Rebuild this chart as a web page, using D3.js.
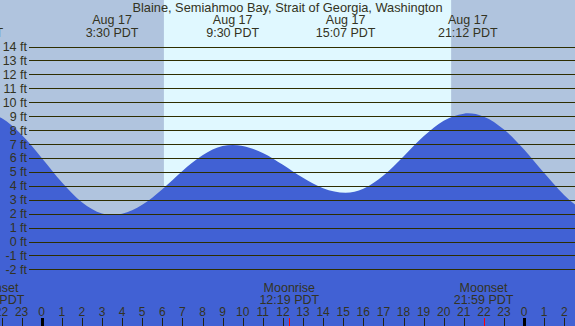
<!DOCTYPE html>
<meta charset="utf-8">
<style>
body { margin: 0; background: #fff; }
svg { display: block; }
text { font-family: "Liberation Sans", Arial, sans-serif; fill: #333322; }
</style>
<body>
<div id="chart"></div>
<script src="https://cdn.jsdelivr.net/npm/d3@7"></script>
<script>
// station + date
const title = "Blaine, Semiahmoo Bay, Strait of Georgia, Washington";

// tide height (hours from midnight Aug 17, feet)
const tideHours = [-3, -2, -1, 0, 1, 2, 3, 3.5, 4, 5, 6, 7, 8, 9, 9.5, 10, 11, 12, 13, 14, 15.12, 16, 17, 18, 19, 20, 21, 21.2, 22, 23, 24, 25, 26, 27];
const tideFeet  = [9.34, 8.86, 7.66, 6.00, 4.26, 2.82, 2.01, 1.90, 1.99, 2.64, 3.76, 5.07, 6.19, 6.85, 6.93, 6.86, 6.36, 5.51, 4.57, 3.83, 3.50, 3.79, 4.74, 6.11, 7.55, 8.67, 9.18, 9.20, 8.96, 8.04, 6.61, 4.92, 3.33, 2.12];

// high / low tide labels
const extremeHours = [-3.4, 3.5, 9.5, 15.12, 21.2];
const extremeDates = ["Aug 16", "Aug 17", "Aug 17", "Aug 17", "Aug 17"];
const extremeTimes = ["20:36 PDT", "3:30 PDT", "9:30 PDT", "15:07 PDT", "21:12 PDT"];

// moon events
const moonHours = [-2.35, 12.317, 21.983];
const moonNames = ["Moonset", "Moonrise", "Moonset"];
const moonTimes = ["21:39 PDT", "12:19 PDT", "21:59 PDT"];

// daylight
const sunrise = 6.08, sunset = 20.37;

const feetTicks = d3.range(-2, 15);
const hourTicks = d3.range(-2, 27);

const width = 575, height = 326;

const x = d3.scaleLinear().domain([0, 24]).range([41.7, 524.1]);
const y = d3.scaleLinear().domain([-2, 14]).range([269.4, 46.5]);

const svg = d3.select("#chart").append("svg")
	.attr("width", width)
	.attr("height", height);

// night / day background
svg.append("rect")
	.attr("width", width).attr("height", height)
	.attr("fill", "#b0c4de");
svg.append("rect")
	.attr("x", x(sunrise)).attr("y", 0)
	.attr("width", x(sunset) - x(sunrise)).attr("height", height)
	.attr("fill", "#e0f8ff");

// tide area
const tide = tideHours.map((h, i) => ({h: h, v: tideFeet[i]}));
const area = d3.area()
	.x(d => x(d.h))
	.y0(height)
	.y1(d => y(d.v))
	.curve(d3.curveMonotoneX);
svg.append("path")
	.datum(tide)
	.attr("d", area)
	.attr("fill", "#4161d4");

// grid lines + feet labels
svg.selectAll(".grid")
	.data(feetTicks)
	.enter().append("line")
	.attr("x1", 29).attr("x2", width)
	.attr("y1", d => Math.round(y(d)) + 0.5)
	.attr("y2", d => Math.round(y(d)) + 0.5)
	.attr("stroke", "#2e2e00")
	.attr("stroke-width", 1);

svg.selectAll(".ft")
	.data(feetTicks)
	.enter().append("text")
	.attr("x", 27)
	.attr("y", d => y(d) + 4.5)
	.attr("text-anchor", "end")
	.style("font-size", "12.5px")
	.text(d => d + " ft");

// title
svg.append("text")
	.attr("x", width / 2).attr("y", 11.5)
	.attr("text-anchor", "middle")
	.style("font-size", "12.8px")
	.text(title);

// tide extreme labels
const ext = svg.selectAll(".ext")
	.data(extremeHours)
	.enter().append("g")
	.attr("transform", d => "translate(" + x(d) + ",0)");
ext.append("text")
	.attr("y", 24).attr("text-anchor", "middle")
	.style("font-size", "12.5px")
	.text((d, i) => extremeDates[i]);
ext.append("text")
	.attr("y", 36.5).attr("text-anchor", "middle")
	.style("font-size", "12.5px")
	.text((d, i) => extremeTimes[i]);

// moon labels
const moon = svg.selectAll(".moon")
	.data(moonHours)
	.enter().append("g")
	.attr("transform", d => "translate(" + x(d) + ",0)");
moon.append("text")
	.attr("y", 291.5).attr("text-anchor", "middle")
	.style("font-size", "12.5px")
	.text((d, i) => moonNames[i]);
moon.append("text")
	.attr("y", 304).attr("text-anchor", "middle")
	.style("font-size", "12.5px")
	.text((d, i) => moonTimes[i]);

// hour labels and ticks
svg.selectAll(".hr")
	.data(hourTicks)
	.enter().append("text")
	.attr("x", d => x(d))
	.attr("y", 316)
	.attr("text-anchor", "middle")
	.style("font-size", "12px")
	.text(d => (d + 24) % 24);

svg.selectAll(".tick")
	.data(hourTicks)
	.enter().append("line")
	.attr("x1", d => Math.round(x(d)) + 0.5)
	.attr("x2", d => Math.round(x(d)) + 0.5)
	.attr("y1", 318).attr("y2", height)
	.attr("stroke", d => d % 24 === 0 ? "#000" : "#222211")
	.attr("stroke-width", d => d % 24 === 0 ? 3 : 1);

svg.selectAll(".mtick")
	.data(moonHours)
	.enter().append("line")
	.attr("x1", d => Math.round(x(d)) + 0.5)
	.attr("x2", d => Math.round(x(d)) + 0.5)
	.attr("y1", 318).attr("y2", height)
	.attr("stroke", "#ff0000")
	.attr("stroke-width", 1);
</script>
</body>
